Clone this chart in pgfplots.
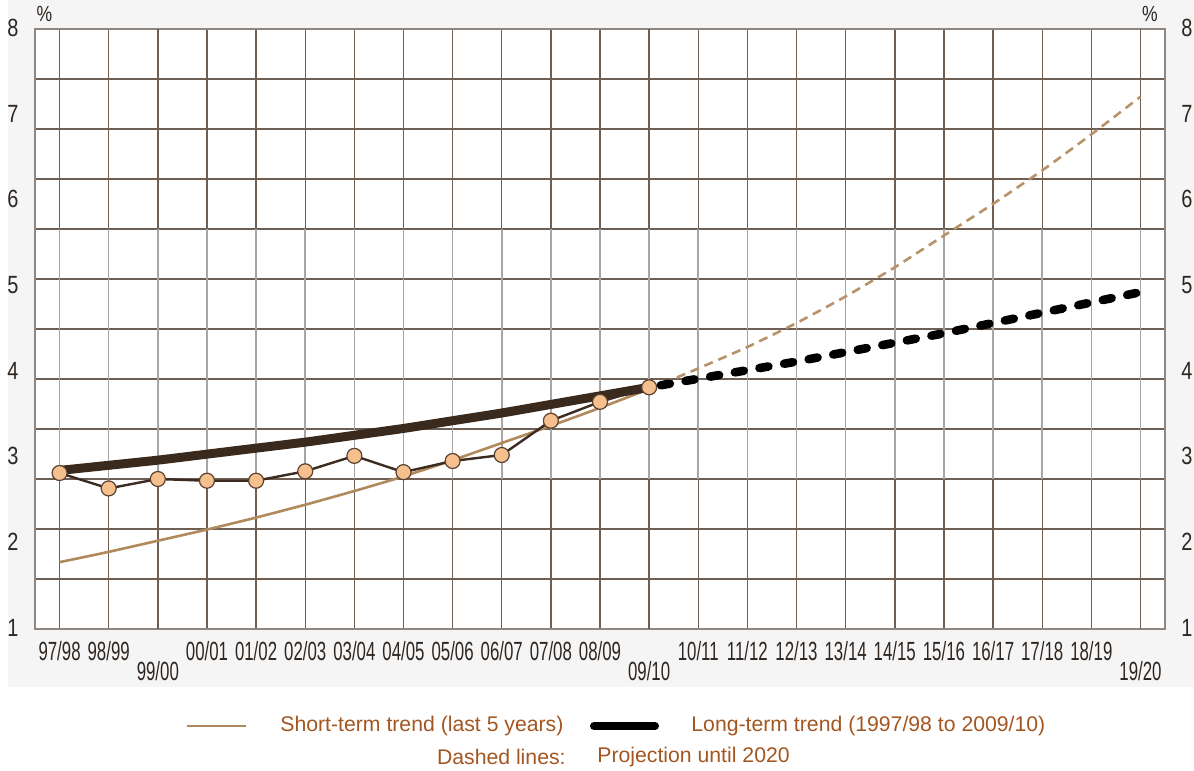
\documentclass[border=0pt]{standalone}
\usepackage{pgfplots}
\pgfplotsset{compat=1.18}
\usepackage{fontspec}
\setmainfont{Liberation Sans}
\newfontfamily\condfont[FakeStretch=0.64]{Liberation Sans}
\newfontfamily\ylabfont[FakeStretch=0.8]{Liberation Sans}
\definecolor{bgc}{HTML}{F5F5F5}
\definecolor{gridc}{HTML}{6E5F55}
\definecolor{lightgrid}{HTML}{A9A5A3}
\definecolor{framec}{HTML}{8D8681}
\definecolor{tanc}{HTML}{B08A5C}
\definecolor{tandash}{HTML}{B8926A}
\definecolor{thickc}{HTML}{3A2A1E}
\definecolor{datac}{HTML}{3B2B20}
\definecolor{markfill}{HTML}{F6C08E}
\definecolor{markdraw}{HTML}{5A4232}
\definecolor{labelc}{HTML}{2F2620}
\definecolor{legendc}{HTML}{A3561F}
\begin{document}
\begin{tikzpicture}[x=1bp,y=1bp]
\fill[bgc] (-13.5,-29) rectangle (579.5,314.5);
\begin{axis}[at={(0,0)}, anchor=south west, width=565bp, height=300bp, scale only axis,
 xmin=-0.5, xmax=22.5, ymin=1, ymax=8,
 axis background/.style={fill=white},
 xtick={0,1,3,4,5,6,7,8,9,10,11,13,14,15,16,17,18,19,20,21},
 xticklabels={97/98,98/99,00/01,01/02,02/03,03/04,04/05,05/06,06/07,07/08,08/09,10/11,11/12,12/13,13/14,14/15,15/16,16/17,17/18,18/19},
 extra x ticks={2,12,22}, extra x tick labels={99/00,09/10,19/20},
 extra x tick style={grid=major, xticklabel style={yshift=-10bp}},
 xticklabel style={font=\condfont\fontsize{13.2}{15}\selectfont, text=labelc, inner sep=0pt, anchor=north, yshift=-6bp},
 ytick={1,1.58333,2.16667,2.75,3.33333,3.91667,4.5,5.08333,5.66667,6.25,6.83333,7.41667,8},
 yticklabels={},
 grid=major, major grid style={gridc, line width=0.7bp},
 major tick length=0pt,
 axis line style={framec, line width=0.8bp},
 clip mode=individual,
]
\pgfplotsinvokeforeach{0,...,22}{
  \draw[lightgrid, line width=0.8bp] (axis cs:#1,2.75) -- (axis cs:#1,5.66667);
}
\pgfplotsinvokeforeach{1,...,8}{
  \node[font=\ylabfont\fontsize{12.5}{14}\selectfont, text=labelc, inner sep=0pt] at (axis cs:-0.5,#1) [xshift=-11bp, yshift=0.6bp] {#1};
  \node[font=\ylabfont\fontsize{12.5}{14}\selectfont, text=labelc, inner sep=0pt] at (axis cs:22.5,#1) [xshift=11bp, yshift=0.6bp] {#1};
}
% short-term trend (solid)
\addplot[tanc, line width=1.3bp, smooth, tension=0.3] coordinates {
 (0,1.78) (1,1.90) (2,2.03) (3,2.16) (4,2.30) (5,2.45) (6,2.61) (7,2.78) (8,2.97) (9,3.17) (10,3.37) (11,3.58) (12,3.80)};
% short-term projection (dashed)
\addplot[tandash, line width=1.3bp, dash pattern=on 4.5bp off 3bp, smooth, tension=0.3] coordinates {
 (12,3.80) (13,4.04) (14,4.29) (15,4.57) (16,4.88) (17,5.22) (18,5.59) (19,5.96) (20,6.35) (21,6.77) (22,7.21)};
% long-term trend (solid)
\addplot[thickc, line width=4.5bp, line join=round, smooth, tension=0.3] coordinates {
 (0,2.85) (1,2.91) (2,2.97) (3,3.04) (4,3.11) (5,3.18) (6,3.26) (7,3.34) (8,3.43) (9,3.52) (10,3.62) (11,3.72) (12,3.82)};
% long-term projection (dashed)
\addplot[black, line width=4.3bp, line cap=round, dash pattern=on 4.5bp off 8bp, dash phase=-6bp] coordinates {
 (12,3.82) (13,3.92) (14,4.02) (15,4.12) (16,4.23) (17,4.34) (18,4.45) (19,4.57) (20,4.69) (21,4.81) (22,4.93)};
% actual values
\addplot[datac, line width=1.2bp, mark=*, mark size=3.75bp, mark options={fill=markfill, draw=markdraw, line width=0.6bp}] coordinates {
 (0,2.82) (1,2.64) (2,2.75) (3,2.73) (4,2.73) (5,2.84) (6,3.02) (7,2.83) (8,2.96) (9,3.03) (10,3.43) (11,3.65) (12,3.82)};
\end{axis}
\node[font=\ylabfont\fontsize{11}{12}\selectfont, text=labelc, inner sep=0pt] at (4.75,307.75) {\%};
\node[font=\ylabfont\fontsize{11}{12}\selectfont, text=labelc, inner sep=0pt] at (557.5,307.75) {\%};
\begin{scope}[every node/.style={font=\fontsize{10.65}{12}\selectfont, text=legendc, inner sep=0pt}]
\draw[tanc, line width=1.3bp] (76,-48.5) -- (105.5,-48.5);
\node[anchor=west] at (122.5,-48.5) {Short-term trend (last 5 years)};
\draw[black, line width=4bp, line cap=round] (279.5,-48.5) -- (310,-48.5);
\node[anchor=west] at (328,-48.5) {Long-term trend (1997/98 to 2009/10)};
\node[anchor=east] at (265.5,-64) {Dashed lines:};
\node[anchor=west] at (281,-64) {Projection until 2020};
\end{scope}
\pgfresetboundingbox
\useasboundingbox (-17.5,-70.5) rectangle (579.5,314.5);
\end{tikzpicture}
\end{document}
